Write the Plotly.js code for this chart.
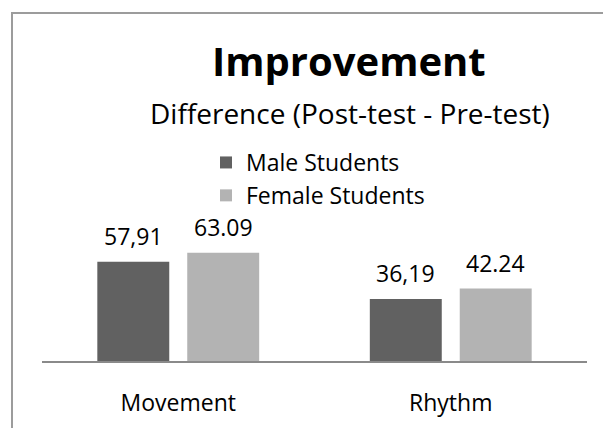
<!DOCTYPE html>
<html>
<head>
<meta charset="utf-8">
<script src="https://cdn.plot.ly/plotly-3.0.1.min.js"></script>
<style>
html,body{margin:0;padding:0;background:#fff;}
#chart{width:603px;height:428px;}
</style>
</head>
<body>
<div id="chart"></div>
<script>
// ---- data ----
const categories = ["Movement", "Rhythm"];
const seriesNames = ["Male Students", "Female Students"];
const maleValues = [57.91, 36.19];
const femaleValues = [63.09, 42.24];
const maleLabels = ["57,91", "36,19"];
const femaleLabels = ["63.09", "42.24"];
const chartTitle = "Improvement";
const chartSubtitle = "Difference (Post-test - Pre-test)";

// ---- layout helpers ----
const M = {l: 42, r: 16, t: 241, b: 67};
const PW = 603 - M.l - M.r, PH = 428 - M.t - M.b;
const px = x => (x - M.l) / PW;
const py = y => (428 - M.b - y) / PH;

const FONT = "Open Sans, Noto Sans, sans-serif";
const DARK = "#616161", LIGHT = "#b3b3b3";
const BARGAP = 0.34;
const slot = (1 - BARGAP) / 2;

const traces = [
  {type: "bar", name: seriesNames[0], x: categories, y: maleValues,
   marker: {color: DARK, line: {width: 0}}, legendgroup: "a", hoverinfo: "skip"},
  {type: "bar", name: seriesNames[1], x: categories, y: femaleValues,
   marker: {color: LIGHT, line: {width: 0}}, legendgroup: "b", hoverinfo: "skip"}
];

const annotations = [];
categories.forEach((c, i) => {
  annotations.push({x: i - slot / 2, y: maleValues[i], xref: "x", yref: "y",
    text: maleLabels[i], showarrow: false, xanchor: "center", yanchor: "bottom",
    yshift: 8, font: {family: FONT, size: 23, color: "#000"}});
  annotations.push({x: i + slot / 2, y: femaleValues[i], xref: "x", yref: "y",
    text: femaleLabels[i], showarrow: false, xanchor: "center", yanchor: "bottom",
    yshift: 8, font: {family: FONT, size: 23, color: "#000"}});
});
annotations.push({x: px(349), y: py(60.5), xref: "paper", yref: "paper",
  text: "<b>" + chartTitle + "</b>", showarrow: false, xanchor: "center", yanchor: "middle",
  font: {family: FONT, size: 40, color: "#000"}});
annotations.push({x: px(350), y: py(113), xref: "paper", yref: "paper",
  text: chartSubtitle, showarrow: false, xanchor: "center", yanchor: "middle",
  font: {family: FONT, size: 28, color: "#000"}});

const layout = {
  width: 603, height: 428,
  margin: M,
  paper_bgcolor: "#fff", plot_bgcolor: "#fff",
  barmode: "group", bargap: BARGAP, bargroupgap: 0.2,
  showlegend: true,
  legend: {x: px(206), y: py(141), xanchor: "left", yanchor: "top",
    xref: "paper", yref: "paper",
    traceorder: "grouped", tracegroupgap: 0,
    bgcolor: "rgba(0,0,0,0)", borderwidth: 0,
    font: {family: FONT, size: 23, color: "#000"}},
  xaxis: {type: "category", showline: true, linecolor: "#8a8a8a", linewidth: 2,
    ticks: "", showgrid: false, zeroline: false, ticklabelstandoff: 20,
    tickfont: {family: FONT, size: 23, color: "#000"}, fixedrange: true},
  yaxis: {range: [0, 70], visible: false, showgrid: false, zeroline: false, fixedrange: true},
  annotations: annotations,
  shapes: [{type: "rect", xref: "paper", yref: "paper",
    x0: px(12), x1: px(700), y0: py(13), y1: py(500),
    line: {color: "#9c9c9c", width: 2}, fillcolor: "rgba(0,0,0,0)", layer: "below"}]
};

Plotly.newPlot("chart", traces, layout, {displayModeBar: false, staticPlot: true});
</script>
</body>
</html>
